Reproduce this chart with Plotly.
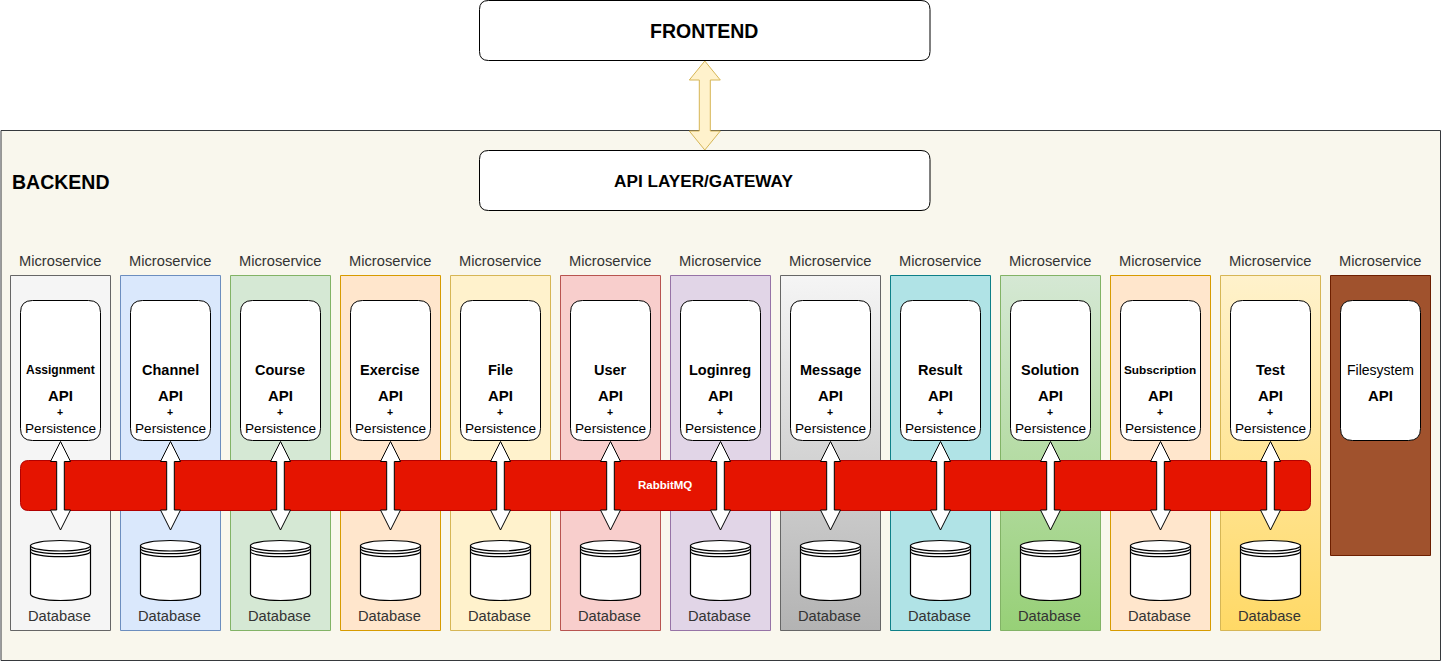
import plotly.graph_objects as go

# ---------------- data ----------------
services = ["Assignment", "Channel", "Course", "Exercise", "File", "User", "Loginreg",
            "Message", "Result", "Solution", "Subscription", "Test", "Filesystem"]
name_font_sizes = [12, 14.5, 14.5, 14.5, 14.5, 14.5, 14.5, 14.5, 14.5, 14.5, 11.8, 14.5, 14]
name_bold = [True] * 12 + [False]
has_persistence = [True] * 12 + [False]
fill_top = ["#f5f5f5", "#dae8fc", "#d5e8d4", "#ffe6cc", "#fff2cc", "#f8cecc", "#e1d5e7",
            "#f5f5f5", "#b0e3e6", "#d5e8d4", "#ffe6cc", "#fff2cc", "#a0522d"]
fill_bottom = ["#f5f5f5", "#dae8fc", "#d5e8d4", "#ffe6cc", "#fff2cc", "#f8cecc", "#e1d5e7",
               "#b3b3b3", "#b0e3e6", "#97d077", "#ffe6cc", "#ffd966", "#a0522d"]
strokes = ["#666666", "#6c8ebf", "#82b366", "#d79b00", "#d6b656", "#b85450", "#9673a6",
           "#666666", "#0e8088", "#82b366", "#d79b00", "#d6b656", "#6d1f00"]
column_label = "Microservice"
db_label = "Database"
bus_label = "RabbitMQ"
frontend_label = "FRONTEND"
gateway_label = "API LAYER/GATEWAY"
backend_label = "BACKEND"

# ---------------- geometry ----------------
W, H = 1441, 661
COL_X0, COL_STEP, COL_W = 10.5, 110, 100
COL_Y0, COL_Y1, FS_Y1 = 275.5, 630.5, 555.5
FONT = "Liberation Sans, Arial, Helvetica, sans-serif"


def rrect(x0, y0, x1, y1, r):
    return (f"M {x0+r},{y0} L {x1-r},{y0} Q {x1},{y0} {x1},{y0+r} "
            f"L {x1},{y1-r} Q {x1},{y1} {x1-r},{y1} L {x0+r},{y1} "
            f"Q {x0},{y1} {x0},{y1-r} L {x0},{y0+r} Q {x0},{y0} {x0+r},{y0} Z")


def darrow(cx, yt, yb, sw, hw, hl):
    pts = [(cx, yt), (cx + hw, yt + hl), (cx + sw, yt + hl), (cx + sw, yb - hl),
           (cx + hw, yb - hl), (cx, yb), (cx - hw, yb - hl), (cx - sw, yb - hl),
           (cx - sw, yt + hl), (cx - hw, yt + hl)]
    return "M " + " L ".join(f"{x},{y}" for x, y in pts) + " Z"


def front_arc(x0, x1, y, ry):
    cx = (x0 + x1) / 2
    rx = (x1 - x0) / 2
    k = 0.5523
    return (f"M {x0},{y} C {x0},{y+k*ry} {cx-k*rx},{y+ry} {cx},{y+ry} "
            f"C {cx+k*rx},{y+ry} {x1},{y+k*ry} {x1},{y}")


def cyl_body(x0, x1, yt, yb, ry):
    cx = (x0 + x1) / 2
    rx = (x1 - x0) / 2
    k = 0.5523
    return (f"M {x0},{yt} L {x0},{yb} C {x0},{yb+k*ry} {cx-k*rx},{yb+ry} {cx},{yb+ry} "
            f"C {cx+k*rx},{yb+ry} {x1},{yb+k*ry} {x1},{yb} L {x1},{yt} Z")


fig = go.Figure()
shapes = []
ann = []

# backend container
shapes.append(dict(type="rect", x0=1, y0=130.5, x1=1440.5, y1=660.5, layer="below",
                   fillcolor="#f9f7ed", line=dict(color="#36393d", width=1)))

# columns (traces so gradients are possible)
for i, name in enumerate(services):
    x0 = COL_X0 + i * COL_STEP
    x1 = x0 + COL_W
    y1 = COL_Y1 if has_persistence[i] else FS_Y1
    kw = {}
    if fill_top[i] != fill_bottom[i]:
        kw["fillgradient"] = dict(type="vertical",
                                  colorscale=[[0, fill_top[i]], [1, fill_bottom[i]]],
                                  start=COL_Y0, stop=y1)
    else:
        kw["fillcolor"] = fill_top[i]
    fig.add_trace(go.Scatter(x=[x0, x1, x1, x0, x0], y=[COL_Y0, COL_Y0, y1, y1, COL_Y0],
                             mode="lines", fill="toself",
                             line=dict(color=strokes[i], width=1),
                             hoverinfo="skip", showlegend=False, **kw))
    cx = (x0 + x1) / 2
    ann.append(dict(x=cx - 1, y=261, text=column_label,
                    font=dict(size=14.7, color="#333333", family=FONT)))

# frontend / gateway boxes
shapes.append(dict(type="path", path=rrect(479.5, 0.5, 930, 60.5, 9),
                   fillcolor="white", line=dict(color="black", width=1)))
shapes.append(dict(type="path", path=rrect(479.5, 150.5, 930, 210.5, 9),
                   fillcolor="white", line=dict(color="black", width=1)))
shapes.append(dict(type="path", path=darrow(704.8, 61, 150, 5.5, 15.5, 19),
                   fillcolor="#fff2cc", line=dict(color="#d6b656", width=1)))
ann.append(dict(x=703.5, y=30.5, text=f"<b>{frontend_label}</b>",
                font=dict(size=19.5, color="black", family=FONT)))
ann.append(dict(x=703.5, y=180.5, text=f"<b>{gateway_label}</b>",
                font=dict(size=17.2, color="black", family=FONT)))
ann.append(dict(x=9.5, y=181.5, xanchor="left", text=f"<b>{backend_label}</b>",
                font=dict(size=19.5, color="black", family=FONT)))

# API boxes
for i, name in enumerate(services):
    x0 = COL_X0 + 10 + i * COL_STEP
    x1 = x0 + 80
    cx = (x0 + x1) / 2 - 0.5
    shapes.append(dict(type="path", path=rrect(x0, 300.5, x1, 440.5, 12),
                       fillcolor="white", line=dict(color="black", width=1)))
    t = f"<b>{name}</b>" if name_bold[i] else name
    ann.append(dict(x=cx, y=369.5, text=t,
                    font=dict(size=name_font_sizes[i], color="black", family=FONT)))
    ann.append(dict(x=cx, y=395.5, text="<b>API</b>",
                    font=dict(size=15, color="black", family=FONT)))
    if has_persistence[i]:
        ann.append(dict(x=cx, y=411.5, text="<b>+</b>",
                        font=dict(size=10.5, color="black", family=FONT)))
        ann.append(dict(x=cx, y=428.5, text="Persistence",
                        font=dict(size=13.6, color="black", family=FONT)))

# RabbitMQ bus
shapes.append(dict(type="path", path=rrect(20.5, 460.5, 1310.5, 510.5, 8),
                   fillcolor="#e51400", line=dict(color="#b20000", width=1)))
ann.append(dict(x=664.5, y=484.5, text=f"<b>{bus_label}</b>",
                font=dict(size=11.5, color="white", family=FONT)))

# arrows + databases
for i, name in enumerate(services):
    if not has_persistence[i]:
        continue
    cx = COL_X0 + 50 + i * COL_STEP
    shapes.append(dict(type="path", path=darrow(cx, 441.5, 530, 3.8, 10, 20),
                       fillcolor="white", line=dict(color="black", width=1)))
    dx0, dx1 = cx - 30, cx + 30
    shapes.append(dict(type="path", path=cyl_body(dx0, dx1, 545.5, 594, 6.5),
                       fillcolor="white", line=dict(color="black", width=1.2)))
    shapes.append(dict(type="circle", x0=dx0, x1=dx1, y0=540.5, y1=551,
                       fillcolor="white", line=dict(color="black", width=1.2)))
    for off in (3, 6):
        shapes.append(dict(type="path", path=front_arc(dx0, dx1, 545.5 + off, 5.2),
                           line=dict(color="black", width=1.2)))
    ann.append(dict(x=cx - 1, y=615.5, text=db_label,
                    font=dict(size=14.7, color="#333333", family=FONT)))

for a in ann:
    a.setdefault("xanchor", "center")
    a.update(showarrow=False, xref="x", yref="y", yanchor="middle")

fig.update_layout(
    width=W, height=H, autosize=False,
    margin=dict(l=0, r=0, t=0, b=0, pad=0),
    paper_bgcolor="white", plot_bgcolor="white",
    xaxis=dict(range=[0, W], visible=False, fixedrange=True),
    yaxis=dict(range=[H, 0], visible=False, fixedrange=True),
    shapes=shapes, annotations=ann, showlegend=False,
)

fig.write_html("out.html", config=dict(displayModeBar=False),
               post_script="document.body.style.margin='0';document.body.style.overflow='hidden';")
